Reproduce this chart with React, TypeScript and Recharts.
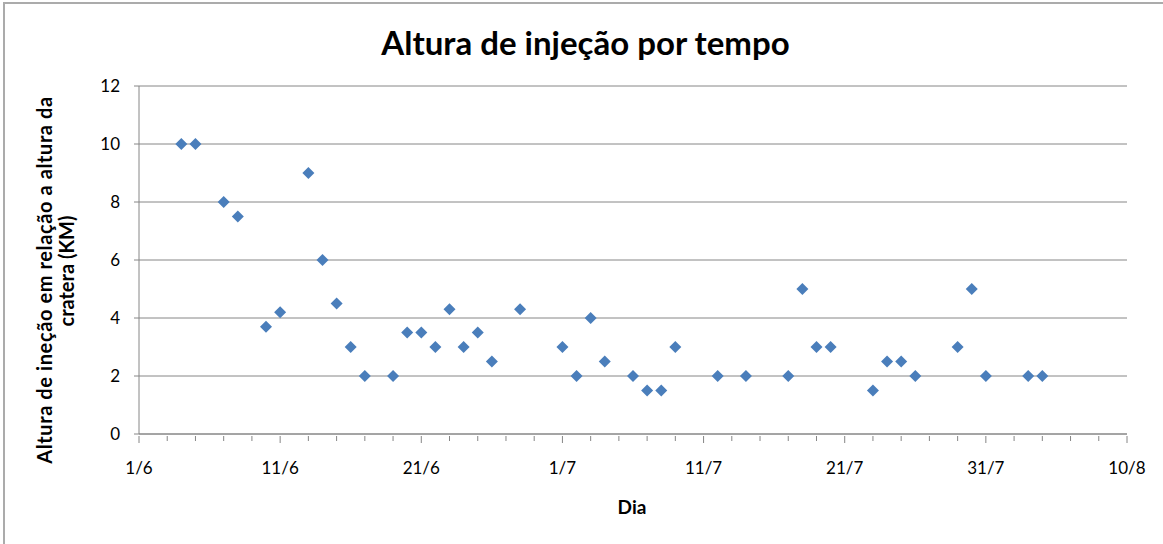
import { ScatterChart, Scatter, XAxis, YAxis, CartesianGrid } from 'recharts'

// dia (d/m) e altura de injeção (km)
const dates = [
  '4/6', '5/6', '7/6', '8/6', '10/6', '11/6', '13/6', '14/6', '15/6', '16/6',
  '17/6', '19/6', '20/6', '21/6', '22/6', '23/6', '24/6', '25/6', '26/6', '28/6',
  '1/7', '2/7', '3/7', '4/7', '6/7', '7/7', '8/7', '9/7', '12/7', '14/7',
  '17/7', '18/7', '19/7', '20/7', '23/7', '24/7', '25/7', '26/7', '29/7', '30/7',
  '31/7', '3/8', '4/8',
]
const heights = [
  10, 10, 8, 7.5, 3.7, 4.2, 9, 6, 4.5, 3,
  2, 2, 3.5, 3.5, 3, 4.3, 3, 3.5, 2.5, 4.3,
  3, 2, 4, 2.5, 2, 1.5, 1.5, 3, 2, 2,
  2, 5, 3, 3, 1.5, 2.5, 2.5, 2, 3, 5,
  2, 2, 2,
]
const xTickLabels = ['1/6', '11/6', '21/6', '1/7', '11/7', '21/7', '31/7', '10/8']
const xTicks = [
  0, 2, 4, 6, 8, 10, 12, 14, 16, 18, 20, 22, 24, 26, 28, 30, 32, 34,
  36, 38, 40, 42, 44, 46, 48, 50, 52, 54, 56, 58, 60, 62, 64, 66, 68, 70,
]
const yTicks = [0, 2, 4, 6, 8, 10, 12]

const FONT = 'Lato, "Open Sans", sans-serif'
const AXIS = '#868686'
const BLUE = '#4A7EBB'

// days since 1 June
const dayOffset = (d: string) => {
  const [day, month] = d.split('/').map(Number)
  return day - 1 + (month === 7 ? 30 : month === 8 ? 61 : 0)
}

const data = dates.map((d, i) => ({ day: dayOffset(d), altura: heights[i] }))

const Diamond = (props: any) => {
  const { cx, cy } = props
  const r = 6
  return (
    <polygon
      points={`${cx},${cy - r} ${cx + r},${cy} ${cx},${cy + r} ${cx - r},${cy}`}
      fill={BLUE}
    />
  )
}

const XTick = (props: any) => {
  const { x, y, payload } = props
  const major = payload.value % 10 === 0
  return (
    <g>
      <line x1={x} x2={x} y1={y} y2={y + (major ? 7 : 5)} stroke={AXIS} />
      {major && (
        <text
          x={x}
          y={y + 38}
          textAnchor="middle"
          fill="#000"
          fontSize={17}
          fontFamily={FONT}
        >
          {xTickLabels[payload.value / 10]}
        </text>
      )}
    </g>
  )
}

const YTitle = () => (
  <g fontFamily={FONT} fontSize={20} fontWeight="bold" fill="#000">
    <text
      transform="translate(52, 280) rotate(-90)"
      textAnchor="middle"
      letterSpacing={0.6}
    >
      Altura de ineção em relação a altura da
    </text>
    <text transform="translate(74, 271) rotate(-90)" textAnchor="middle">
      cratera (KM)
    </text>
  </g>
)

const XTitle = () => (
  <text
    x={632}
    y={514}
    textAnchor="middle"
    fontFamily={FONT}
    fontSize={19}
    fontWeight="bold"
    fill="#000"
  >
    Dia
  </text>
)

export default function App() {
  return (
    <div
      style={{
        position: 'absolute',
        left: 0,
        top: 0,
        width: 1163,
        height: 544,
        overflow: 'hidden',
        background: '#fff',
      }}
    >
      <div
        style={{
          position: 'absolute',
          left: 3,
          top: 2,
          width: 1300,
          height: 700,
          borderLeft: '2px solid #ababab',
          borderTop: '2px solid #ababab',
        }}
      />
      <div
        style={{
          position: 'absolute',
          left: 0,
          top: 22,
          width: 1171,
          textAlign: 'center',
          fontFamily: FONT,
          fontWeight: 'bold',
          fontSize: 33,
          lineHeight: '40px',
          color: '#000',
        }}
      >
        Altura de injeção por tempo
      </div>
      <div style={{ position: 'absolute', left: 0, top: 0 }}>
        <ScatterChart
          width={1163}
          height={544}
          margin={{ top: 86, right: 36, bottom: 50, left: 0 }}
        >
          <CartesianGrid vertical={false} stroke={AXIS} />
          <XAxis
            type="number"
            dataKey="day"
            domain={[0, 70]}
            ticks={xTicks}
            interval={0}
            height={60}
            tickSize={0}
            tickLine={false}
            axisLine={{ stroke: AXIS }}
            tick={<XTick />}
            label={<XTitle />}
          />
          <YAxis
            type="number"
            dataKey="altura"
            domain={[0, 12]}
            ticks={yTicks}
            width={139}
            tickSize={5}
            tickMargin={14}
            stroke={AXIS}
            tick={{ fill: '#000', fontSize: 17, fontFamily: FONT }}
            label={<YTitle />}
          />
          <Scatter
            data={data}
            shape={<Diamond />}
            isAnimationActive={false}
          />
        </ScatterChart>
      </div>
    </div>
  )
}
